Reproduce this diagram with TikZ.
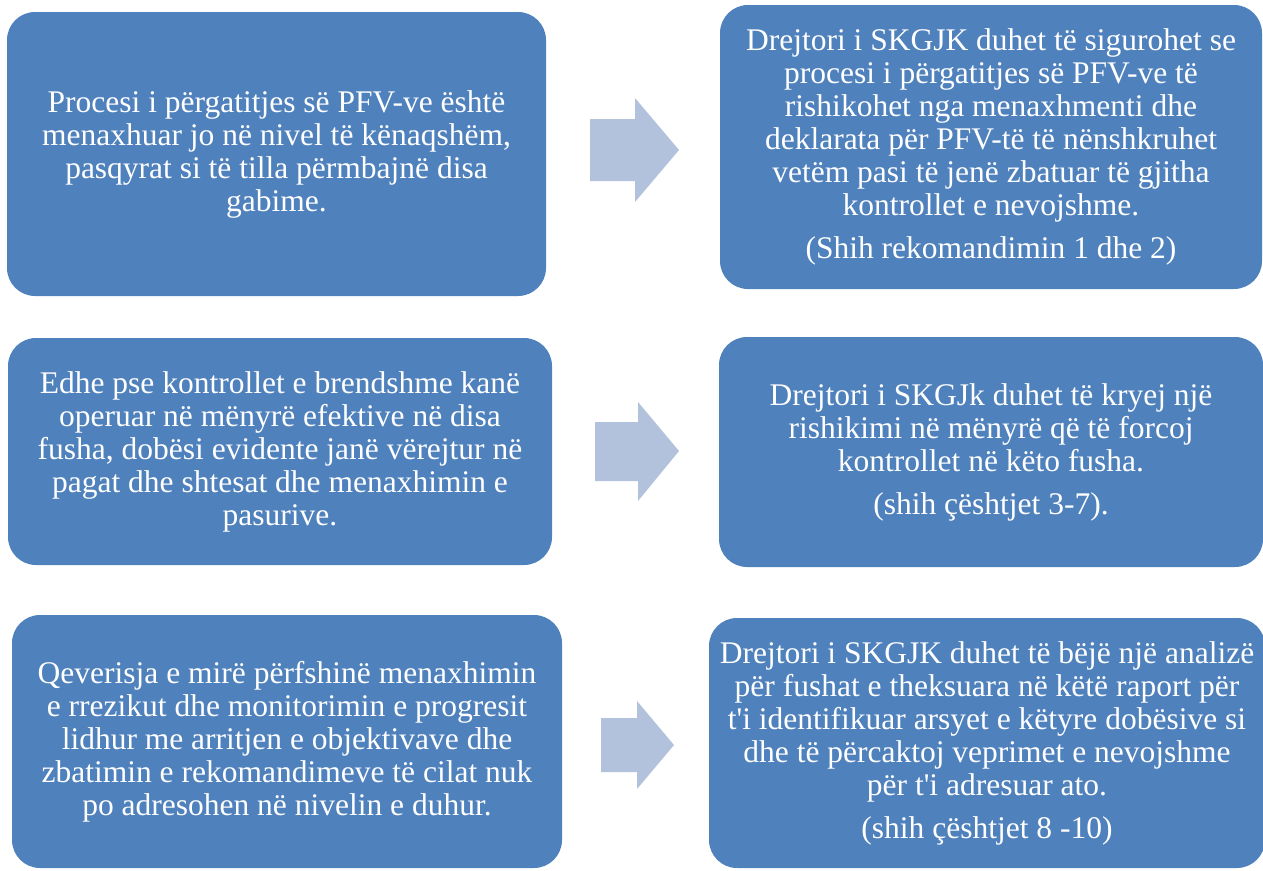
\documentclass[tikz,border=0pt]{standalone}
\usepackage{fontspec}
\setmainfont{Liberation Serif}
\definecolor{boxblue}{HTML}{4F81BD}
\definecolor{arrowblue}{HTML}{B3C2DC}
\tikzset{
  box/.style={fill=boxblue, rounded corners=28pt, text=white, align=center,
    inner sep=0pt, font=\fontsize{31.5}{33}\selectfont},
  blockarrow/.style={fill=arrowblue},
}
\begin{document}
\begin{tikzpicture}[x=1pt,y=-1pt]
\useasboundingbox (0,0) rectangle (1263,870);

\node[box, minimum width=539pt, minimum height=284pt] (b1) at (276.5,154)
  {Procesi i përgatitjes së PFV-ve është\\ menaxhuar jo në nivel të kënaqshëm,\\ pasqyrat si të tilla përmbajnë disa\\ gabime.};
\node[box, minimum width=542pt, minimum height=284pt] (b2) at (991,147)
  {Drejtori i SKGJK duhet të sigurohet se\\ procesi i përgatitjes së PFV-ve të\\ rishikohet nga menaxhmenti dhe\\ deklarata për PFV-të të nënshkruhet\\ vetëm pasi të jenë zbatuar të gjitha\\ kontrollet e nevojshme.\\[10pt] (Shih rekomandimin 1 dhe 2)};

\node[box, minimum width=544pt, minimum height=227pt] (b3) at (280,451.5)
  {Edhe pse kontrollet e brendshme kanë\\ operuar në mënyrë efektive në disa\\ fusha, dobësi evidente janë vërejtur në\\ pagat dhe shtesat dhe menaxhimin e\\ pasurive.};
\node[box, minimum width=544pt, minimum height=230pt] (b4) at (991,452)
  {Drejtori i SKGJk duhet të kryej një\\ rishikimi në mënyrë që të forcoj\\ kontrollet në këto fusha.\\[10pt] (shih çështjet 3-7).};

\node[box, minimum width=550pt, minimum height=253pt] (b5) at (287,741.5)
  {Qeverisja e mirë përfshinë menaxhimin\\ e rrezikut dhe monitorimin e progresit\\ lidhur me arritjen e objektivave dhe\\ zbatimin e rekomandimeve të cilat nuk\\ po adresohen në nivelin e duhur.};
\node[box, minimum width=556pt, minimum height=250pt] (b6) at (987,743)
  {Drejtori i SKGJK duhet të bëjë një analizë\\ për fushat e theksuara në këtë raport për\\ t\textquotesingle i identifikuar arsyet e këtyre dobësive si\\ dhe të përcaktoj veprimet e nevojshme\\ për t\textquotesingle i adresuar ato.\\[10pt] (shih çështjet 8 -10)};

\coordinate (a1) at (590,150);
\coordinate (a2) at (595,451);
\coordinate (a3) at (601,745);
\fill[blockarrow] (a1) ++(0,-31) -- ++(45,0) -- ++(0,-21) -- ++(44,52) -- ++(-44,52) -- ++(0,-21) -- ++(-45,0) -- cycle;
\fill[blockarrow] (a2) ++(0,-29) -- ++(43,0) -- ++(0,-20) -- ++(41,49) -- ++(-41,50) -- ++(0,-20) -- ++(-43,0) -- cycle;
\fill[blockarrow] (a3) ++(0,-27) -- ++(36,0) -- ++(0,-17) -- ++(37,44) -- ++(-37,44) -- ++(0,-17) -- ++(-36,0) -- cycle;
\end{tikzpicture}
\end{document}
